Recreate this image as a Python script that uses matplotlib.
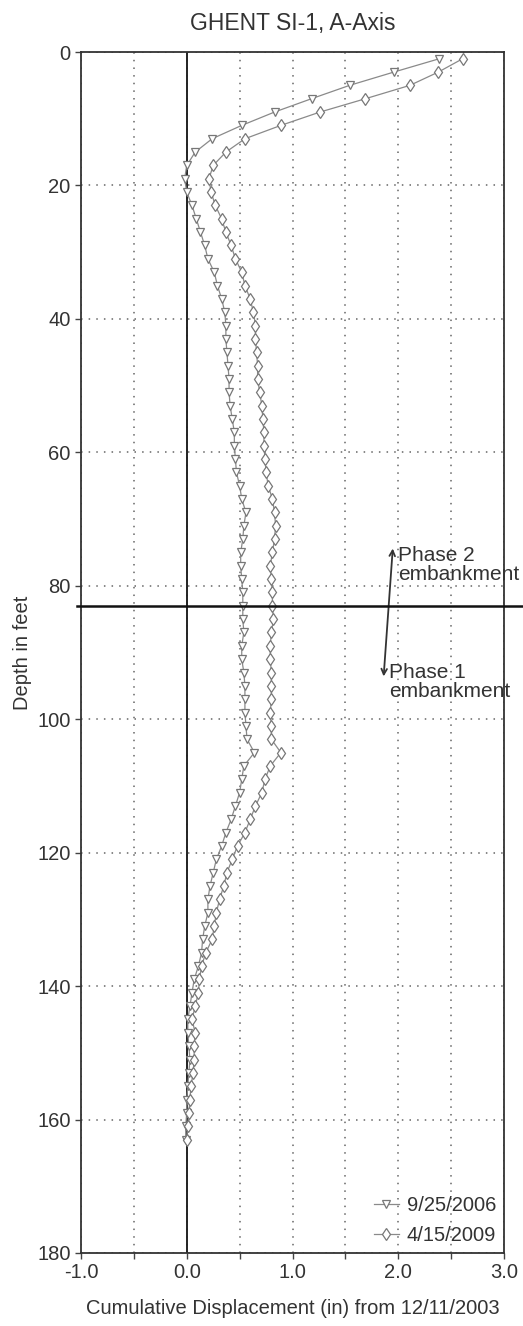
import numpy as np
import matplotlib
matplotlib.use("Agg")
import matplotlib.pyplot as plt

plt.rcParams['font.family'] = ['Liberation Sans', 'DejaVu Sans']

# глубины, футы (шаг 2 фута)
depth = list(range(1, 164, 2))

# 9/25/2006 - треугольники
disp_2006 = [
    2.39, 1.96, 1.54, 1.18, 0.83, 0.52, 0.24, 0.08, 0.00, -0.02,
    0.00, 0.05, 0.09, 0.13, 0.17, 0.20, 0.26, 0.29, 0.33, 0.36,
    0.37, 0.37, 0.38, 0.39, 0.40, 0.40, 0.41, 0.43, 0.45, 0.45,
    0.46, 0.47, 0.50, 0.52, 0.56, 0.54, 0.53, 0.51, 0.51, 0.52,
    0.53, 0.53, 0.53, 0.54, 0.52, 0.52, 0.54, 0.55, 0.55, 0.55,
    0.56, 0.57, 0.64, 0.54, 0.52, 0.50, 0.46, 0.42, 0.37, 0.33,
    0.28, 0.25, 0.22, 0.20, 0.20, 0.17, 0.15, 0.14, 0.11, 0.07,
    0.05, 0.03, 0.01, 0.01, 0.02, 0.03, 0.02, 0.01, 0.00, 0.00,
    -0.01, -0.01,
]

# 4/15/2009 - ромбы
disp_2009 = [
    2.61, 2.38, 2.11, 1.69, 1.26, 0.89, 0.55, 0.37, 0.25, 0.21,
    0.23, 0.27, 0.33, 0.37, 0.42, 0.46, 0.52, 0.55, 0.60, 0.63,
    0.65, 0.65, 0.66, 0.67, 0.67, 0.69, 0.71, 0.72, 0.73, 0.73,
    0.74, 0.75, 0.77, 0.81, 0.83, 0.84, 0.83, 0.81, 0.79, 0.80,
    0.81, 0.81, 0.82, 0.80, 0.79, 0.79, 0.80, 0.80, 0.80, 0.79,
    0.80, 0.80, 0.89, 0.79, 0.74, 0.71, 0.65, 0.60, 0.55, 0.48,
    0.43, 0.38, 0.35, 0.31, 0.28, 0.26, 0.24, 0.18, 0.14, 0.12,
    0.11, 0.08, 0.05, 0.08, 0.07, 0.07, 0.06, 0.04, 0.03, 0.02,
    0.01, 0.00,
]

x_ticks = np.arange(-1.0, 3.01, 0.5)
x_labels = ["-1.0", "", "0.0", "", "1.0", "", "2.0", "", "3.0"]
y_ticks = list(range(0, 181, 20))

fig = plt.figure(figsize=(5.23, 13.26), dpi=100)
ax = fig.add_axes([81 / 523, 1 - 1253 / 1326, (504 - 81) / 523, (1253 - 52) / 1326])

gray = "#8a8a8a"
ax.plot(disp_2006, depth, color=gray, lw=0.9, marker="v", ms=6,
        mfc="white", mec="#777777", mew=0.9, label="9/25/2006", zorder=3)
ax.plot(disp_2009, depth, color=gray, lw=0.9, marker="d", ms=6,
        mfc="white", mec="#777777", mew=0.9, label="4/15/2009", zorder=3)

ax.set_xlim(-1.0, 3.0)
ax.set_ylim(180, 0)
ax.set_xticks(x_ticks)
ax.set_xticklabels(x_labels)
ax.set_yticks(y_ticks)
ax.tick_params(labelsize=14.5, length=4, width=1, color="#444444", labelcolor="#333333")

ax.grid(True, color="#666666", linestyle=(0, (1, 4)), lw=1.1)
ax.axvline(0, color="#222222", lw=1.4, zorder=2)
for s in ax.spines.values():
    s.set_color("#333333")
    s.set_linewidth(1.3)

ax.set_title("GHENT SI-1, A-Axis", fontsize=16.5, color="#333333", pad=16)
ax.set_xlabel("Cumulative Displacement (in) from 12/11/2003", fontsize=14.5,
              color="#333333", labelpad=12)
ax.set_ylabel("Depth in feet", fontsize=14.5, color="#333333", labelpad=4)

leg = ax.legend(loc="lower right", frameon=False, fontsize=14.5, handlelength=1.2,
                handletextpad=0.4, labelspacing=0.55, borderaxespad=0.0,
                labelcolor="#333333")

# рукописные пометки
ax.axhline(83, xmin=-0.01, xmax=1.05, color="#111111", lw=1.8, clip_on=False, zorder=4)
ax.annotate("", xy=(1.95, 74), xytext=(1.86, 94),
            arrowprops=dict(arrowstyle="<->", color="#333333", lw=1.3))
ax.text(2.0, 74.0, "Phase 2\nembankment", fontsize=15, color="#333333",
        va="top", ha="left", linespacing=1.0)
ax.text(1.91, 91.5, "Phase 1\nembankment", fontsize=15, color="#333333",
        va="top", ha="left", linespacing=1.05)

fig.savefig("out.png", dpi=100)
